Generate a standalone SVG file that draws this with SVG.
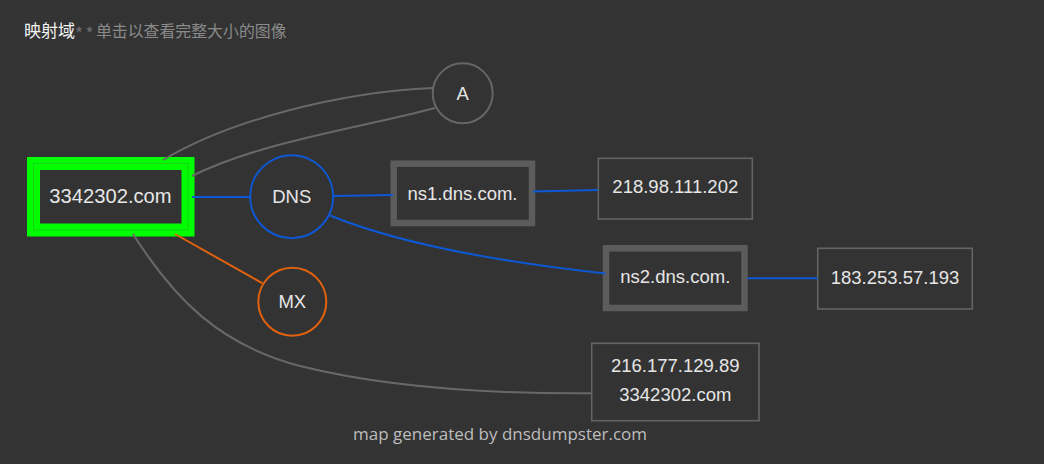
<svg xmlns="http://www.w3.org/2000/svg" width="1044" height="464" viewBox="0 0 1044 464">
<style>
.bg{fill:#333333}
.lbl{font-family:"Liberation Sans",Arial,sans-serif;font-size:18.5px;fill:#e6e6e6;text-anchor:middle}
.big{font-size:20.2px}
.box{fill:#333333;stroke:#5c5c5c;stroke-width:6.5}
.ip{fill:#333333;stroke:#646464;stroke-width:1.6}
.edge{fill:none;stroke-width:2}
.g{stroke:#686868}
.b{stroke:#0d58d4}
.o{stroke:#e0620e}
</style>
<rect class="bg" x="0" y="0" width="1044" height="464"/>
<g id="title">
<text x="24" y="37" font-family="'Noto Sans CJK SC','Liberation Sans',sans-serif" font-size="17" fill="#f4f4f4">映射域<tspan fill="#6e6e6e" font-size="17" letter-spacing="2.5" dy="3">**</tspan><tspan fill="#8a8a8a" font-size="15.9" dy="-3">单击以查看完整大小的图像</tspan></text>
</g>
<g id="node-main">
<rect x="33.5" y="163.5" width="154.5" height="66.5" fill="#333333" stroke="#00ff00" stroke-width="13"/>
<rect x="33.5" y="163.5" width="154.5" height="66.5" fill="none" stroke="#19cf19" stroke-width="1"/>
<text class="lbl big" x="110.5" y="203">3342302.com</text>
</g>
<g id="node-A">
<circle cx="462.7" cy="93.3" r="30" fill="#333333" stroke="#666666" stroke-width="2"/>
<text class="lbl" x="462.7" y="99.5">A</text>
</g>
<g id="node-DNS">
<circle cx="291.7" cy="196.7" r="41.5" fill="#333333" stroke="#0d58d4" stroke-width="2"/>
<text class="lbl" x="291.7" y="203">DNS</text>
</g>
<g id="node-MX">
<circle cx="292.3" cy="301.7" r="34" fill="#333333" stroke="#e0620e" stroke-width="2"/>
<text class="lbl" x="292.3" y="308">MX</text>
</g>
<g id="node-ns1">
<rect class="box" x="393.7" y="163.7" width="138.3" height="59.3"/>
<text class="lbl" x="462.5" y="200">ns1.dns.com.</text>
</g>
<g id="node-ip1">
<rect class="ip" x="598.3" y="158.3" width="154" height="60.7"/>
<text class="lbl" x="675.3" y="193">218.98.111.202</text>
</g>
<g id="node-ns2">
<rect class="box" x="606" y="248.3" width="138.5" height="59.7"/>
<text class="lbl" x="675.3" y="283">ns2.dns.com.</text>
</g>
<g id="node-ip2">
<rect class="ip" x="817.7" y="248.3" width="154.6" height="60.7"/>
<text class="lbl" x="895" y="284">183.253.57.193</text>
</g>
<g id="node-ip3">
<rect class="ip" x="591.7" y="343.3" width="167.3" height="77.4"/>
<text class="lbl" x="675.3" y="372">216.177.129.89</text>
<text class="lbl" x="675.3" y="401">3342302.com</text>
</g>
<g id="connectors">
<path class="edge g" d="M163,160 C230,120 340,92 433,88"/>
<path class="edge g" d="M192,176 C260,142 360,128 435,108"/>
<path class="edge b" d="M192,197 L250.5,197"/>
<path class="edge b" d="M333,196 L393,195"/>
<path class="edge b" d="M533,191.5 L598,190"/>
<path class="edge b" d="M330,215.5 C400,244 500,262 605.5,273.5"/>
<path class="edge b" d="M747.5,278.3 L817.7,278.3"/>
<path class="edge o" d="M175,234 L262.5,283.3"/>
<path class="edge g" d="M133,234 C175,300 220,345 300,366 C380,386 480,394 591.7,393.3"/>
</g>
<g id="footer">
<text x="500" y="440" font-family="'Open Sans','Liberation Sans',sans-serif" font-size="17" fill="#bdbdbd" text-anchor="middle">map generated by dnsdumpster.com</text>
</g>
</svg>
